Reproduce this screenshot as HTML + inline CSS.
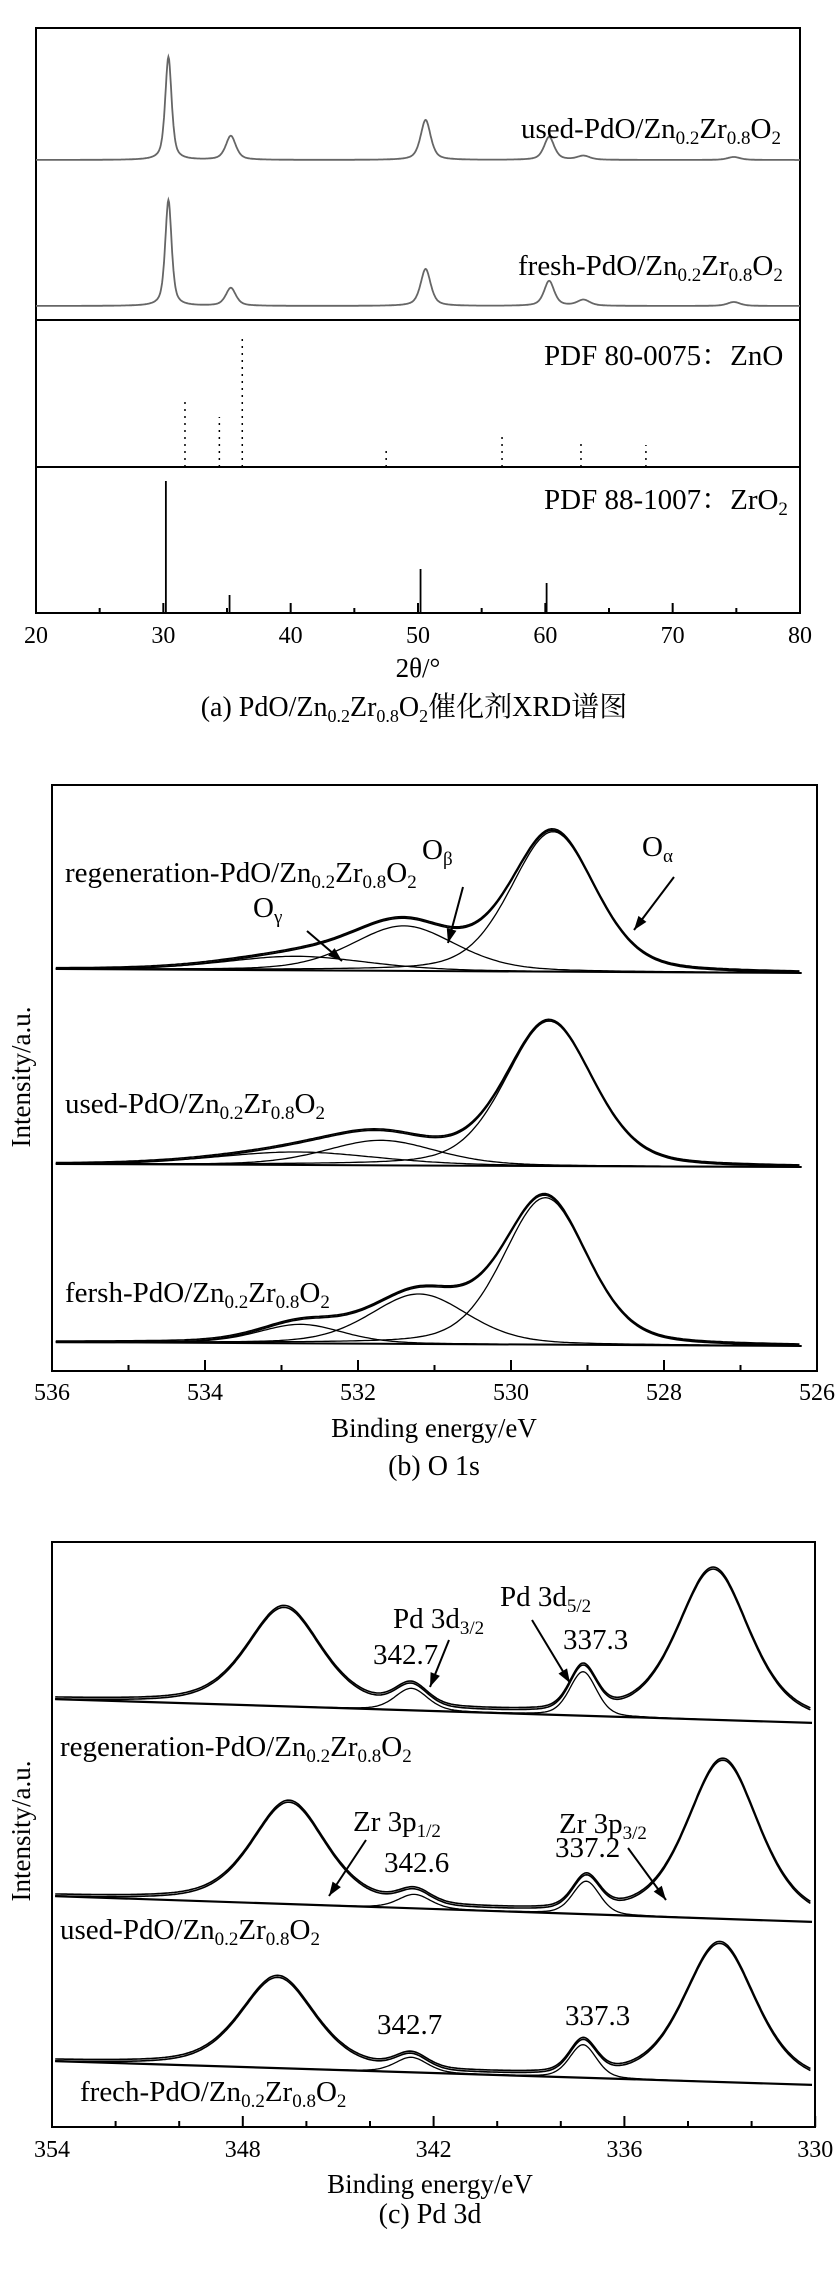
<!DOCTYPE html>
<html><head><meta charset="utf-8"><style>
html,body{margin:0;padding:0;background:#fff;}
svg{display:block;font-family:"Liberation Serif","Noto Serif CJK SC","Noto Sans CJK SC",serif;}
</style></head><body>
<svg id="fig" width="839" height="2270" viewBox="0 0 839 2270" xmlns="http://www.w3.org/2000/svg">
<rect width="839" height="2270" fill="#fff"/>
<!-- Panel A -->
<g>
<rect x="36" y="28" width="764" height="585" fill="none" stroke="#000" stroke-width="2"/>
<line x1="36" y1="320" x2="800" y2="320" stroke="#000" stroke-width="2"/>
<line x1="36" y1="467" x2="800" y2="467" stroke="#000" stroke-width="2"/>
<g id="gA"></g>
<text x="521" y="138" font-size="29" font-family="Liberation Serif, serif">used-PdO/Zn<tspan font-size="19" dy="6">0.2</tspan><tspan dy="-6">Zr</tspan><tspan font-size="19" dy="6">0.8</tspan><tspan dy="-6">O</tspan><tspan font-size="19" dy="6">2</tspan></text>
<text x="518" y="275" font-size="29" font-family="Liberation Serif, serif">fresh-PdO/Zn<tspan font-size="19" dy="6">0.2</tspan><tspan dy="-6">Zr</tspan><tspan font-size="19" dy="6">0.8</tspan><tspan dy="-6">O</tspan><tspan font-size="19" dy="6">2</tspan></text>
<text x="544" y="365" font-size="29">PDF 80-0075：ZnO</text>
<text x="544" y="509" font-size="29">PDF 88-1007：ZrO<tspan font-size="19" dy="6">2</tspan></text>
<text x="418" y="677" font-size="27" text-anchor="middle">2θ/°</text>
<text x="414" y="716" font-size="28" text-anchor="middle">(a) PdO/Zn<tspan font-size="18" dy="6">0.2</tspan><tspan dy="-6">Zr</tspan><tspan font-size="18" dy="6">0.8</tspan><tspan dy="-6">O</tspan><tspan font-size="18" dy="6">2</tspan><tspan dy="-6">催化剂XRD谱图</tspan></text>
</g>
<!-- Panel B -->
<g>
<rect x="52" y="785" width="765" height="586" fill="none" stroke="#000" stroke-width="2"/>
<g id="gB"></g>
<text x="65" y="882" font-size="29">regeneration-PdO/Zn<tspan font-size="19" dy="6">0.2</tspan><tspan dy="-6">Zr</tspan><tspan font-size="19" dy="6">0.8</tspan><tspan dy="-6">O</tspan><tspan font-size="19" dy="6">2</tspan></text>
<text x="422" y="859" font-size="29">O<tspan font-size="19" dy="6">β</tspan></text>
<text x="642" y="856" font-size="29">O<tspan font-size="19" dy="6">α</tspan></text>
<text x="253" y="917" font-size="29">O<tspan font-size="19" dy="6">γ</tspan></text>
<text x="65" y="1113" font-size="29">used-PdO/Zn<tspan font-size="19" dy="6">0.2</tspan><tspan dy="-6">Zr</tspan><tspan font-size="19" dy="6">0.8</tspan><tspan dy="-6">O</tspan><tspan font-size="19" dy="6">2</tspan></text>
<text x="65" y="1302" font-size="29">fersh-PdO/Zn<tspan font-size="19" dy="6">0.2</tspan><tspan dy="-6">Zr</tspan><tspan font-size="19" dy="6">0.8</tspan><tspan dy="-6">O</tspan><tspan font-size="19" dy="6">2</tspan></text>
<text transform="translate(30,1077) rotate(-90)" font-size="27" text-anchor="middle">Intensity/a.u.</text>
<text x="434" y="1437" font-size="27" text-anchor="middle">Binding energy/eV</text>
<text x="434" y="1475" font-size="28" text-anchor="middle">(b) O 1s</text>
</g>
<!-- Panel C -->
<g>
<rect x="52" y="1542" width="763" height="585" fill="none" stroke="#000" stroke-width="2"/>
<g id="gC"></g>
<text x="60" y="1756" font-size="29">regeneration-PdO/Zn<tspan font-size="19" dy="6">0.2</tspan><tspan dy="-6">Zr</tspan><tspan font-size="19" dy="6">0.8</tspan><tspan dy="-6">O</tspan><tspan font-size="19" dy="6">2</tspan></text>
<text x="60" y="1939" font-size="29">used-PdO/Zn<tspan font-size="19" dy="6">0.2</tspan><tspan dy="-6">Zr</tspan><tspan font-size="19" dy="6">0.8</tspan><tspan dy="-6">O</tspan><tspan font-size="19" dy="6">2</tspan></text>
<text x="80" y="2101" font-size="29">frech-PdO/Zn<tspan font-size="19" dy="6">0.2</tspan><tspan dy="-6">Zr</tspan><tspan font-size="19" dy="6">0.8</tspan><tspan dy="-6">O</tspan><tspan font-size="19" dy="6">2</tspan></text>
<text x="393" y="1628" font-size="29">Pd 3d<tspan font-size="19" dy="6">3/2</tspan></text>
<text x="500" y="1606" font-size="29">Pd 3d<tspan font-size="19" dy="6">5/2</tspan></text>
<text x="373" y="1664" font-size="29">342.7</text>
<text x="563" y="1649" font-size="29">337.3</text>
<text x="353" y="1831" font-size="29">Zr 3p<tspan font-size="19" dy="6">1/2</tspan></text>
<text x="559" y="1833" font-size="29">Zr 3p<tspan font-size="19" dy="6">3/2</tspan></text>
<text x="384" y="1872" font-size="29">342.6</text>
<text x="555" y="1857" font-size="29">337.2</text>
<text x="377" y="2034" font-size="29">342.7</text>
<text x="565" y="2025" font-size="29">337.3</text>
<text transform="translate(30,1831) rotate(-90)" font-size="27" text-anchor="middle">Intensity/a.u.</text>
<text x="430" y="2193" font-size="27" text-anchor="middle">Binding energy/eV</text>
<text x="430" y="2223" font-size="28" text-anchor="middle">(c) Pd 3d</text>
</g>
</svg>
<script>
// ---------- data: panel A (XRD) ----------
const xrdTicks = [20,30,40,50,60,70,80];
const xrdMinor = [25,35,45,55,65,75];
const usedPos = [30.4,35.3,50.6,60.3,63.0,74.8];
const usedHeight = [103,24,40,23,4,3];
const freshPos = [30.4,35.3,50.6,60.3,63.0,74.8];
const freshHeight = [106,18,37,25,6,4];
const znoPos = [31.7,34.4,36.2,47.5,56.6,62.8,67.9];
const znoInt = [70,50,132,20,34,27,22];
const zro2Pos = [30.2,35.2,50.2,60.1];
const zro2Int = [132,18,44,30];
// ---------- data: panel B (O 1s) ----------
const o1sTicks = [536,534,532,530,528,526];
const o1sMinor = [535,533,531,529,527];
const o1sSamples = ['regeneration','used','fresh'];
const o1sBase = [[969,973],[1164,1167],[1342,1346]];
const o1sCenters = [[529.45,531.4,532.8],[529.5,531.7,532.8],[529.55,531.2,532.75]];
const o1sHeights = [[140,45,14],[145,25,13],[147,50,19]];
const o1sFwhm = [[1.3,1.6,2.2],[1.35,1.7,2.5],[1.3,1.5,1.3]];
// ---------- data: panel C (Pd 3d) ----------
const pdTicks = [354,348,342,336,330];
const pdMinor = [352,350,346,344,340,338,334,332];
const pdBase = [[1699,1723],[1896,1922],[2061,2085]];
const pdCenters = [[346.7,342.7,337.3,333.2],[346.55,342.6,337.2,332.9],[346.9,342.7,337.3,333.0]];
const pdHeights = [[100,22,44,152],[103,14,33,160],[92,15,33,140]];
const pdFwhm = [[2.8,1.2,1.0,2.7],[2.8,1.2,1.0,2.7],[2.8,1.2,1.0,2.7]];

const NS='http://www.w3.org/2000/svg';
function mk(tag,attrs,parent){const e=document.createElementNS(NS,tag);for(const k in attrs)e.setAttribute(k,attrs[k]);parent.appendChild(e);return e;}
function pv(x,c,h,w,eta){const d=(x-c)/w;return h*(eta/(1+4*d*d)+(1-eta)*Math.exp(-4*Math.LN2*d*d));}
function arrow(g,x1,y1,x2,y2,name){
  const l=mk('line',{x1:x1,y1:y1,x2:x2,y2:y2,stroke:'#000','stroke-width':2},g);
  
  
  const a=Math.atan2(y2-y1,x2-x1),L=14,W=5;
  const bx=x2-L*Math.cos(a),by=y2-L*Math.sin(a);
  const p=mk('polygon',{points:`${x2},${y2} ${bx+W*Math.sin(a)},${by-W*Math.cos(a)} ${bx-W*Math.sin(a)},${by+W*Math.cos(a)}`,fill:'#000'},g);
  
  
}
function axisTicks(g,ticks,minor,sx,yb,maj,mn,ly,pname){
  ticks.forEach(t=>{const x=sx(t);
    const l=mk('line',{x1:x,y1:yb,x2:x,y2:yb-maj,stroke:'#000','stroke-width':2},g);
    
    
    const tx=mk('text',{x:x,y:ly,'font-size':24,'text-anchor':'middle'},g);tx.textContent=t;
    
    
  });
  minor.forEach(t=>{const x=sx(t);
    const l=mk('line',{x1:x,y1:yb,x2:x,y2:yb-mn,stroke:'#000','stroke-width':2},g);
    
    
  });
}
// ----- Panel A -----
(function(){
  const g=document.getElementById('gA');
  const sx=t=>36+(t-20)*764/60;
  axisTicks(g,xrdTicks,xrdMinor,sx,613,10,5,643,'xrd-x');
  function trace(pos,hts,base,name){
    let d='';for(let t=20;t<=80.001;t+=0.05){let y=base;pos.forEach((c,i)=>{const w=i===0?0.6:(i<4?0.95:1.2);y-=pv(t,c,hts[i],w,0.6);});d+=(d?'L':'M')+sx(t).toFixed(1)+','+y.toFixed(1);}
    const p=mk('path',{d:d,fill:'none',stroke:'#666','stroke-width':1.8},g);
    
    
  }
  trace(usedPos,usedHeight,160,'used-xrd-trace');
  trace(freshPos,freshHeight,306,'fresh-xrd-trace');
  znoPos.forEach((c,i)=>{const l=mk('line',{x1:sx(c),y1:467,x2:sx(c),y2:467-znoInt[i],stroke:'#000','stroke-width':1.5,'stroke-dasharray':'2,5'},g);
    
    });
  zro2Pos.forEach((c,i)=>{const l=mk('line',{x1:sx(c),y1:613,x2:sx(c),y2:613-zro2Int[i],stroke:'#000','stroke-width':1.8},g);
    
    });
})();
// ----- Panel B -----
(function(){
  const g=document.getElementById('gB');
  const sx=e=>52+(536-e)*76.5;
  axisTicks(g,o1sTicks,o1sMinor,sx,1371,11,6,1400,'o1s-x');
  const x0=536,x1=526.2,xs=535.95;
  o1sSamples.forEach((s,k)=>{
    const b=o1sBase[k];const by=e=>b[0]+(b[1]-b[0])*(x0-e)/(x0-x1);
    let bl=mk('line',{x1:sx(xs),y1:by(xs),x2:sx(x1),y2:by(x1),stroke:'#000','stroke-width':2},g);
    
    
    o1sCenters[k].forEach((c,i)=>{
      let d='';for(let e=xs;e>=x1;e-=0.04){const y=by(e)-pv(e,c,o1sHeights[k][i],o1sFwhm[k][i],0.3);d+=(d?'L':'M')+sx(e).toFixed(1)+','+y.toFixed(1);}
      const p=mk('path',{d:d,fill:'none',stroke:'#000','stroke-width':1.3},g);
      
      
    });
    [0,1.5].forEach(off=>{
      let d='';for(let e=xs;e>=x1;e-=0.04){let y=by(e)+off;o1sCenters[k].forEach((c,i)=>{y-=pv(e,c,o1sHeights[k][i],o1sFwhm[k][i],0.3);});d+=(d?'L':'M')+sx(e).toFixed(1)+','+y.toFixed(1);}
      const p=mk('path',{d:d,fill:'none',stroke:'#000','stroke-width':1.6},g);
      
      
    });
  });
  arrow(g,674,877,634,930,'o-alpha-arrow');
  arrow(g,463,887,448,943,'o-beta-arrow');
  arrow(g,307,931,342,961,'o-gamma-arrow');
})();
// ----- Panel C -----
(function(){
  const g=document.getElementById('gC');
  const sx=e=>52+(354-e)*31.8;
  axisTicks(g,pdTicks,pdMinor,sx,2127,11,6,2157,'pd-x');
  const names=['regeneration','used','fresh'];
  const eta=0.5;
  names.forEach((s,k)=>{
    const b=pdBase[k];const by=e=>b[0]+(b[1]-b[0])*(354-e)/24;
    const bl=mk('line',{x1:sx(353.9),y1:by(353.9),x2:sx(330.1),y2:by(330.1),stroke:'#000','stroke-width':2.2},g);
    
    
    [1,2].forEach(i=>{
      let d='';for(let e=353.9;e>=330.1;e-=0.05){const y=by(e)-pv(e,pdCenters[k][i],pdHeights[k][i],pdFwhm[k][i],0.3);d+=(d?'L':'M')+sx(e).toFixed(1)+','+y.toFixed(1);}
      const p=mk('path',{d:d,fill:'none',stroke:'#000','stroke-width':1.3},g);
      
      
    });
    [0,2].forEach(off=>{
      let d='';for(let e=353.9;e>=330.1;e-=0.05){let y=by(e)+off;pdCenters[k].forEach((c,i)=>{y-=pv(e,c,pdHeights[k][i],pdFwhm[k][i],(i===0||i===3)?eta:0.3);});d+=(d?'L':'M')+sx(e).toFixed(1)+','+y.toFixed(1);}
      const p=mk('path',{d:d,fill:'none',stroke:'#000','stroke-width':1.6},g);
      
      
    });
  });
  arrow(g,449,1640,430,1687,'pd3d32-arrow');
  arrow(g,532,1620,570,1683,'pd3d52-arrow');
  arrow(g,366,1840,329,1896,'zr3p12-arrow');
  arrow(g,628,1848,666,1900,'zr3p32-arrow');
})();
</script>
</body></html>
